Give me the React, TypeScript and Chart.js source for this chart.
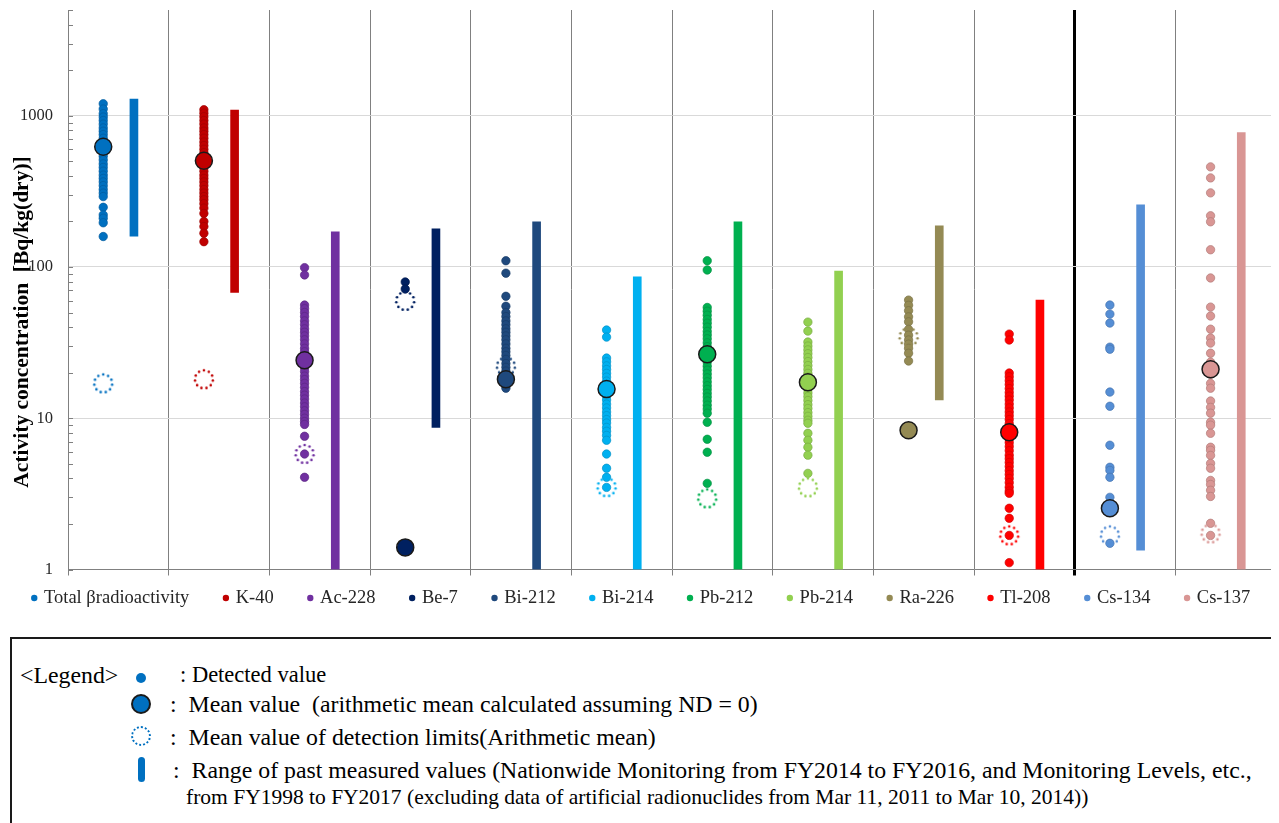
import React, { useEffect, useRef } from 'react';
import { Chart, registerables } from 'chart.js';

Chart.register(...registerables);

// ---------------- data ----------------
const CATEGORIES = [
  'Total βradioactivity', 'K-40', 'Ac-228', 'Be-7', 'Bi-212', 'Bi-214',
  'Pb-212', 'Pb-214', 'Ra-226', 'Tl-208', 'Cs-134', 'Cs-137',
];

const SERIES_COLORS = [
  '#0070C0', '#C00000', '#7030A0', '#002060', '#1F497D', '#00B0F0',
  '#00B050', '#92D050', '#948A54', '#FF0000', '#558ED5', '#D99694',
];

const DETECTED_TOTAL_BETA = [1200, 1107, 1031, 980, 930, 880, 830, 790, 750, 710, 670, 630, 600, 570, 540, 510, 480, 455, 430, 405, 385, 365, 345, 325, 308, 292, 248, 221, 210, 196, 159];
const DETECTED_K40 = [1096, 1040, 985, 930, 880, 830, 790, 750, 710, 670, 635, 600, 570, 540, 510, 480, 455, 430, 405, 385, 365, 345, 325, 308, 292, 278, 262, 245, 226, 200, 185, 167, 147];
const DETECTED_AC228 = [99, 88.6, 56, 53, 50, 47, 44, 41.5, 39, 37, 35, 33, 31, 29, 27.5, 26, 24.5, 23, 21.5, 20.3, 19, 18, 17, 16, 15, 14.2, 13.4, 12.6, 11.9, 11.2, 10.6, 10, 9.5, 9.1, 7.6, 5.8, 4.07];
const DETECTED_BE7 = [79.6, 71.5];
const DETECTED_BI212 = [110, 91, 64, 55, 50, 47, 44, 41.5, 39, 37, 35, 33, 31, 29, 27.5, 26, 24.5, 23, 21.7, 20.5, 19.4, 18.3, 17.3, 16.4, 15.8];
const DETECTED_BI214 = [38.3, 34.4, 25, 23.6, 22.2, 21, 19.8, 18.7, 17.6, 16.6, 15.7, 14.8, 14, 13.2, 12.4, 11.7, 11, 10.4, 9.8, 9.3, 8.7, 8.2, 7.7, 7.15, 5.8, 4.67, 4.07, 3.49];
const DETECTED_PB212 = [110, 95.5, 54, 51, 48, 45, 42.5, 40, 37.5, 35.5, 33.5, 31.5, 29.7, 28, 26.4, 24.9, 23.5, 22.1, 20.8, 19.6, 18.5, 17.4, 16.4, 15.5, 14.6, 13.8, 13, 12.2, 11.5, 10.8, 9.4, 7.26, 5.96, 3.71];
const DETECTED_PB214 = [43.2, 37.7, 31.9, 30, 28.3, 26.7, 25.2, 23.7, 22.3, 21, 19.8, 18.7, 17.6, 16.6, 15.6, 14.7, 13.9, 13.1, 12.3, 11.6, 10.9, 10.3, 9.7, 9.27, 7.95, 7.15, 6.43, 5.7, 4.32];
const DETECTED_RA226 = [60.4, 55.8, 51.4, 46.8, 43.4, 38.7, 35.4, 32.9, 30.9, 29.0, 26.9, 23.9];
const DETECTED_TL208 = [36, 32.9, 19.9, 18.8, 17.7, 16.7, 15.7, 14.8, 14, 13.2, 12.4, 11.7, 11, 10.4, 9.8, 9.2, 8.7, 8.2, 7.7, 7.3, 6.9, 6.5, 6.1, 5.7, 5.4, 5.1, 4.8, 4.5, 4.25, 4.0, 3.75, 3.5, 3.3, 3.19, 2.54, 2.18, 1.68, 1.11];
const DETECTED_CS134 = [56, 48.8, 42.6, 29.5, 28.6, 14.9, 12.0, 6.63, 4.74, 4.52, 4.07, 3.0, 2.65, 1.49];
const DETECTED_CS137 = [459, 388, 309, 218, 199, 130, 84.6, 54.3, 47.4, 38.8, 33.9, 31.4, 26.9, 23.5, 19.5, 17, 15.8, 13.0, 11.8, 10.8, 9.4, 9.0, 7.95, 6.43, 6.14, 5.68, 5.03, 4.67, 3.88, 3.65, 3.34, 3.04, 2.02, 1.68];

const DETECTED_VALUES = [
  DETECTED_TOTAL_BETA, DETECTED_K40, DETECTED_AC228, DETECTED_BE7, DETECTED_BI212, DETECTED_BI214,
  DETECTED_PB212, DETECTED_PB214, DETECTED_RA226, DETECTED_TL208, DETECTED_CS134, DETECTED_CS137,
];

const MEAN_VALUES = [623, 504, 24.2, 1.40, 18.1, 15.6, 26.5, 17.3, 8.33, 8.08, 2.54, 21.1];
const DETECTION_LIMITS = [17, 18.1, 5.8, 59.6, 22, 3.5, 2.95, 3.49, 34.4, 1.68, 1.68, 1.73];
const RANGE_MIN = [160, 68, 1, 8.7, 1, 1, 1, 1, 13.2, 1, 1.34, 1];
const RANGE_MAX = [1290, 1090, 171, 179, 199, 86, 199, 94, 187, 60.4, 258, 775];

const Y_TICKS = [1, 10, 100, 1000];
const Y_MIN = 1;
const Y_MAX = 5000;

// ---------------- layout / style constants ----------------
const DOT_OFFSET = 0.35;
const BAR_OFFSET = 0.655;
const LEGEND_PADDING = 13;
const LEGEND_GAP = '\u00a0\u00a0\u00a0\u00a0\u00a0';
const LEGEND_FONT = 18.5;
const LEGEND_TEXT_CENTER = 590;
const FONT = "'Liberation Serif', 'Times New Roman', serif";
const AXIS_COLOR = '#808080';

function shade(hex: string, f: number): string {
  const n = parseInt(hex.slice(1), 16);
  const r = Math.round(((n >> 16) & 255) * f);
  const g = Math.round(((n >> 8) & 255) * f);
  const b = Math.round((n & 255) * f);
  return `rgb(${r},${g},${b})`;
}

function makeDottedCircle(color: string): HTMLCanvasElement {
  const size = 24;
  const c = document.createElement('canvas');
  c.width = size;
  c.height = size;
  const ctx = c.getContext('2d')!;
  ctx.fillStyle = color;
  const r = 9;
  const n = 11;
  for (let i = 0; i < n; i++) {
    const a = (i / n) * Math.PI * 2 - Math.PI / 2;
    ctx.beginPath();
    ctx.arc(size / 2 + r * Math.cos(a), size / 2 + r * Math.sin(a), 1.3, 0, Math.PI * 2);
    ctx.fill();
  }
  return c;
}

const minorTicksPlugin = {
  id: 'minorTicks',
  beforeDatasetsDraw(chart: any) {
    const y = chart.scales.y;
    const { left, right } = chart.chartArea;
    const ctx = chart.ctx;
    ctx.save();
    ctx.strokeStyle = AXIS_COLOR;
    ctx.lineWidth = 1;
    ctx.beginPath();
    for (let d = Y_MIN; d <= Y_MAX; d *= 10) {
      for (let m = 1; m <= 9; m++) {
        const v = d * m;
        if (v > Y_MAX) break;
        const py = Math.round(y.getPixelForValue(v)) + 0.5;
        ctx.moveTo(left, py);
        ctx.lineTo(left + 5, py);
        ctx.moveTo(right, py);
        ctx.lineTo(right - 5, py);
      }
    }
    ctx.stroke();
    ctx.restore();
  },
};

const legendShiftPlugin = {
  id: 'legendShift',
  afterLayout(chart: any) {
    const lg = chart.legend;
    if (!lg) return;
    const dy = LEGEND_TEXT_CENTER - (lg.top + LEGEND_PADDING + LEGEND_FONT / 2);
    lg.top += dy;
    lg.bottom += dy;
  },
};

const textStyle: React.CSSProperties = {
  position: 'absolute',
  fontFamily: FONT,
  fontSize: 23.8,
  lineHeight: '26px',
  color: '#000',
  whiteSpace: 'pre',
};

export default function App() {
  const ref = useRef<HTMLCanvasElement>(null);

  useEffect(() => {
    document.body.style.overflow = 'hidden';
    Chart.defaults.font.family = FONT;
    const canvas = ref.current!;
    const datasets: any[] = [];

    CATEGORIES.forEach((name, i) => {
      datasets.push({
        type: 'scatter',
        label: name,
        data: DETECTED_VALUES[i].map((v) => ({ x: i + DOT_OFFSET, y: v })),
        backgroundColor: SERIES_COLORS[i],
        borderColor: shade(SERIES_COLORS[i], 0.82),
        borderWidth: 0,
        pointRadius: 4.2,
        pointHoverRadius: 4.2,
        pointBorderWidth: 0.7,
        order: 2,
      });
    });

    CATEGORIES.forEach((name, i) => {
      datasets.push({
        type: 'scatter',
        label: name + ' mean',
        data: [{ x: i + DOT_OFFSET, y: MEAN_VALUES[i] }],
        backgroundColor: SERIES_COLORS[i],
        borderColor: '#1a1a1a',
        pointRadius: 8.5,
        pointHoverRadius: 8.5,
        pointBorderWidth: 1.5,
        order: 0,
      });
    });

    CATEGORIES.forEach((name, i) => {
      datasets.push({
        type: 'scatter',
        label: name + ' detection limit',
        data: [{ x: i + DOT_OFFSET, y: DETECTION_LIMITS[i] }],
        pointStyle: makeDottedCircle(SERIES_COLORS[i]),
        backgroundColor: 'transparent',
        borderColor: SERIES_COLORS[i],
        pointRadius: 10,
        order: 1,
      });
    });

    datasets.push({
      type: 'bar',
      label: 'Range of past measured values',
      data: CATEGORIES.map((_, i) => ({ x: i + BAR_OFFSET, y: [RANGE_MIN[i], RANGE_MAX[i]] })),
      backgroundColor: SERIES_COLORS,
      borderWidth: 0,
      barThickness: 8,
      order: 3,
    });

    const defaultLabels = (Chart.defaults as any).plugins.legend.labels.generateLabels;

    const chart = new Chart(canvas, {
      type: 'scatter',
      data: { datasets },
      options: {
        responsive: false,
        animation: false,
        events: [],
        layout: { autoPadding: false, padding: { top: 2, right: 3, left: 0, bottom: 0 } },
        scales: {
          x: {
            type: 'linear',
            min: 0,
            max: CATEGORIES.length,
            offset: false,
            afterBuildTicks: (s: any) => {
              s.ticks = CATEGORIES.map((_, i) => ({ value: i })).concat([{ value: CATEGORIES.length }]);
            },
            ticks: { display: false },
            grid: {
              offset: false,
              color: (c: any) => (c.index === 10 ? '#000000' : AXIS_COLOR),
              lineWidth: (c: any) => (c.index === 10 ? 3 : 1),
              drawTicks: true,
              tickLength: 6,
            },
            border: { display: true, color: AXIS_COLOR },
          },
          y: {
            type: 'logarithmic',
            min: Y_MIN,
            max: Y_MAX,
            afterBuildTicks: (s: any) => {
              s.ticks = Y_TICKS.map((v) => ({ value: v }));
            },
            afterFit: (s: any) => {
              s.width = 60;
              s.paddingTop = 0;
              s.paddingBottom = 0;
            },
            ticks: {
              callback: (v: any) => String(v),
              font: { size: 16.5 },
              color: '#262626',
              padding: 15,
              autoSkip: false,
            },
            grid: { color: '#d9d9d9', drawTicks: false, lineWidth: 1 },
            border: { display: true, color: AXIS_COLOR },
            title: {
              display: true,
              text: 'Activity concentration  [Bq/kg(dry)]            ',
              font: { size: 21.5, weight: 'bold' },
              color: '#000',
              padding: { top: 2, bottom: 0 },
            },
          },
        },
        plugins: {
          tooltip: { enabled: false },
          legend: {
            position: 'bottom',
            labels: {
              usePointStyle: true,
              pointStyle: 'circle',
              boxWidth: 1,
              boxHeight: 4.5,
              padding: LEGEND_PADDING,
              font: { size: LEGEND_FONT },
              color: '#262626',
              generateLabels: (c: any) =>
                defaultLabels(c).map((item: any) =>
                  item.datasetIndex < CATEGORIES.length - 1
                    ? { ...item, text: item.text + LEGEND_GAP, lineWidth: 0 }
                    : { ...item, lineWidth: 0 },
                ),
              filter: (item: any) => item.datasetIndex < CATEGORIES.length,
            },
          },
        },
      } as any,
      plugins: [minorTicksPlugin, legendShiftPlugin],
    });
    return () => chart.destroy();
  }, []);

  return (
    <div style={{ position: 'relative', width: 1271, height: 815, overflow: 'hidden', background: '#fff' }}>
      <canvas ref={ref} width={1271} height={609} style={{ position: 'absolute', left: 0, top: 0, width: 1271, height: 609 }} />
      <div style={{ position: 'absolute', left: 2, top: 629, width: 1320, height: 260, border: '2px solid #1a1a1a', boxSizing: 'border-box' }} />
      <div style={{ ...textStyle, left: 12, top: 654 }}>{'<Legend>'}</div>
      <div style={{ position: 'absolute', left: 128, top: 665, width: 10, height: 10, borderRadius: '50%', background: '#0070C0' }} />
      <div style={{ ...textStyle, fontSize: 22.5, left: 172, top: 654 }}>{': Detected value'}</div>
      <div style={{ position: 'absolute', left: 123, top: 686, width: 20, height: 20, borderRadius: '50%', background: '#0070C0', border: '2px solid #1a1a1a', boxSizing: 'border-box' }} />
      <div style={{ ...textStyle, left: 162, top: 683 }}>{':  Mean value  (arithmetic mean calculated assuming ND = 0)'}</div>
      <div style={{ position: 'absolute', left: 123, top: 718, width: 20, height: 20, borderRadius: '50%', border: '2px dotted #0070C0', boxSizing: 'border-box' }} />
      <div style={{ ...textStyle, left: 162, top: 716 }}>{':  Mean value of detection limits(Arithmetic mean)'}</div>
      <div style={{ position: 'absolute', left: 130, top: 749, width: 7, height: 25, borderRadius: 4, background: '#0070C0' }} />
      <div style={{ ...textStyle, left: 165, top: 749 }}>{':  Range of past measured values (Nationwide Monitoring from FY2014 to FY2016, and Monitoring Levels, etc.,'}</div>
      <div style={{ ...textStyle, fontSize: 21.5, left: 178, top: 776 }}>{'from FY1998 to FY2017 (excluding data of artificial radionuclides from Mar 11, 2011 to Mar 10, 2014))'}</div>
    </div>
  );
}
